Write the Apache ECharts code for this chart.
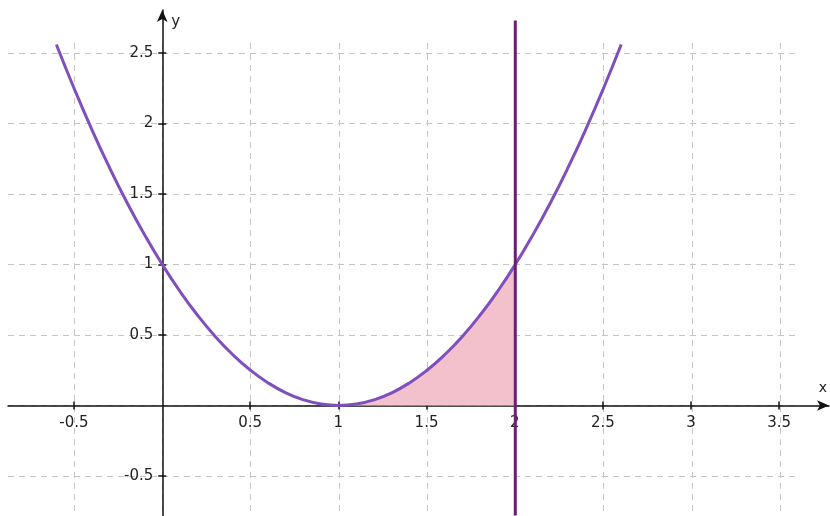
<!DOCTYPE html>
<html>
<head>
<meta charset="utf-8">
<script src="https://cdn.jsdelivr.net/npm/echarts@6/dist/echarts.min.js"></script>
<style>
  html, body { margin: 0; padding: 0; background: #fff; }
  #chartBox { width: 830px; height: 516px; }
</style>
</head>
<body>
<div id="chartBox"></div>
<script>
// points
let curveX = [-0.6, -0.5, -0.4, -0.3, -0.2, -0.1, 0, 0.1, 0.2, 0.3, 0.4, 0.5, 0.6, 0.7, 0.8, 0.9, 1,
    1.1, 1.2, 1.3, 1.4, 1.5, 1.6, 1.7, 1.8, 1.9, 2, 2.1, 2.2, 2.3, 2.4, 2.5, 2.6]
let curveY = [2.56, 2.25, 1.96, 1.69, 1.44, 1.21, 1, 0.81, 0.64, 0.49, 0.36, 0.25, 0.16, 0.09, 0.04, 0.01, 0,
    0.01, 0.04, 0.09, 0.16, 0.25, 0.36, 0.49, 0.64, 0.81, 1, 1.21, 1.44, 1.69, 1.96, 2.25, 2.56]
// shaded part under the curve, x from 1 to 2
let shadeX = [1, 1.1, 1.2, 1.3, 1.4, 1.5, 1.6, 1.7, 1.8, 1.9, 2]
let shadeY = [0, 0.01, 0.04, 0.09, 0.16, 0.25, 0.36, 0.49, 0.64, 0.81, 1]
// vertical line x = 2
let lineX = 2
let lineY = [2.73, -0.78]
// ticks and labels
let gridX = [-0.5, 0, 0.5, 1, 1.5, 2, 2.5, 3, 3.5]
let gridY = [-0.5, 0, 0.5, 1, 1.5, 2, 2.5]
let labelX = [-0.5, 0.5, 1, 1.5, 2, 2.5, 3, 3.5]
let labelY = [-0.5, 0.5, 1, 1.5, 2, 2.5]

function pairs(xs, ys) {
    let out = []
    for (let i = 0; i < xs.length; i++) {
        out.push([xs[i], ys[i]])
    }
    return out
}

let myChart = echarts.init(document.getElementById('chartBox'))

let font = { fontFamily: 'DejaVu Sans', fontSize: 15, color: '#222' }
let axisLineStyle = { color: '#111', width: 1.5 }
let xRange = [-0.874, 3.783]
let yRange = [-0.784, 2.805]

// axes of the dashed grid
let splitAxis = function (min, max, ticks) {
    return {
        type: 'value', gridIndex: 0, min: min, max: max,
        axisLine: { show: false }, axisLabel: { show: false },
        axisTick: { show: false, customValues: ticks },
        splitLine: { show: true, lineStyle: { color: '#c4c4c4', width: 1, type: [6, 5] } }
    }
}
// axes that draw nothing
let blankAxis = function (grid, min, max) {
    return { type: 'value', gridIndex: grid, min: min, max: max, show: false, splitLine: { show: false } }
}

myChart.setOption({
    backgroundColor: '#fff',
    animation: false,
    grid: [
        { left: 8, right: 33, top: 43, bottom: 0 },        // dashed grid
        { left: 8, right: 0, top: 10, bottom: 0 },         // data
        { left: 8, right: 0, top: 10, bottom: 110.5 },     // x axis, bottom edge sits on y = 0
        { left: 162.25, right: 0, top: 10, bottom: 0 }     // y axis, left edge sits on x = 0
    ],
    xAxis: [
        splitAxis(-0.874, 3.596, gridX),
        blankAxis(1, xRange[0], xRange[1]),
        {
            type: 'value', gridIndex: 2, min: xRange[0], max: xRange[1],
            position: 'bottom',
            name: 'x',
            nameLocation: 'end',
            nameGap: -2,
            nameTextStyle: { fontFamily: 'DejaVu Sans', fontSize: 14, color: '#222', align: 'right', verticalAlign: 'bottom', padding: [0, 0, 10, 0] },
            axisLine: {
                show: true, onZero: false,
                symbol: ['none', 'arrow'], symbolSize: [8, 12],
                lineStyle: axisLineStyle
            },
            axisTick: { show: true, length: 4, customValues: labelX, lineStyle: axisLineStyle },
            axisLabel: Object.assign({ show: true, margin: 10, customValues: labelX }, font),
            splitLine: { show: false }
        },
        {
            type: 'value', gridIndex: 2, min: xRange[0], max: xRange[1],
            position: 'bottom',
            axisLine: { show: false, onZero: false },
            axisTick: { show: true, inside: true, length: 4, customValues: labelX, lineStyle: axisLineStyle },
            axisLabel: { show: false },
            splitLine: { show: false }
        },
        blankAxis(3, 0, 1)
    ],
    yAxis: [
        splitAxis(-0.784, 2.571, gridY),
        blankAxis(1, yRange[0], yRange[1]),
        blankAxis(2, 0, 1),
        {
            type: 'value', gridIndex: 3, min: yRange[0], max: yRange[1],
            position: 'left',
            name: 'y',
            nameLocation: 'end',
            nameGap: -12,
            nameTextStyle: { fontFamily: 'DejaVu Sans', fontSize: 15, color: '#222', align: 'left', verticalAlign: 'middle', padding: [0, 0, 0, 9] },
            axisLine: {
                show: true, onZero: false,
                symbol: ['none', 'arrow'], symbolSize: [8, 12],
                lineStyle: axisLineStyle
            },
            axisTick: { show: true, length: 4, customValues: labelY, lineStyle: axisLineStyle },
            axisLabel: Object.assign({ show: true, margin: 9, customValues: labelY }, font),
            splitLine: { show: false }
        },
        {
            type: 'value', gridIndex: 3, min: yRange[0], max: yRange[1],
            position: 'left',
            axisLine: { show: false, onZero: false },
            axisTick: { show: true, inside: true, length: 4, customValues: labelY, lineStyle: axisLineStyle },
            axisLabel: { show: false },
            splitLine: { show: false }
        }
    ],
    series: [
        {
            type: 'line',
            xAxisIndex: 1, yAxisIndex: 1,
            data: pairs(shadeX, shadeY),
            smooth: true,
            showSymbol: false,
            lineStyle: { width: 0 },
            areaStyle: { color: '#f3c1cb', opacity: 1, origin: 0 },
            z: 1
        },
        {
            type: 'line',
            xAxisIndex: 1, yAxisIndex: 1,
            data: pairs(curveX, curveY),
            smooth: true,
            showSymbol: false,
            lineStyle: { color: '#7e4fbd', width: 3 },
            z: 3
        },
        {
            type: 'line',
            xAxisIndex: 1, yAxisIndex: 1,
            data: [[lineX, lineY[0]], [lineX, lineY[1]]],
            showSymbol: false,
            lineStyle: { color: '#6a1f73', width: 3 },
            z: 4
        }
    ]
})
</script>
</body>
</html>
